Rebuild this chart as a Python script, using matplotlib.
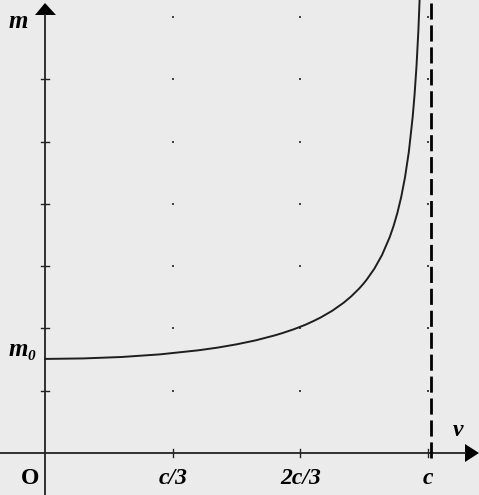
import matplotlib
matplotlib.use("Agg")
import matplotlib.pyplot as plt
from matplotlib.patches import Polygon

# ---- data ----
# speed v as a fraction of c, mass m in y-tick units (m0 = 1.51 units)
v_vals = [0.0, 0.1, 0.2, 0.3, 0.4, 0.45, 0.5, 0.55, 0.6, 0.62, 0.65, 0.68, 0.7,
          0.72, 0.75, 0.78, 0.8, 0.82, 0.83, 0.84, 0.86, 0.88, 0.9, 0.91, 0.92,
          0.93, 0.94, 0.95, 0.96, 0.965, 0.97, 0.975, 0.98]
m_vals = [1.51, 1.518, 1.541, 1.583, 1.648, 1.691, 1.744, 1.808, 1.888, 1.925,
          1.987, 2.059, 2.115, 2.176, 2.283, 2.413, 2.517, 2.638, 2.707, 2.783,
          2.959, 3.179, 3.464, 3.642, 3.853, 4.108, 4.426, 4.836, 5.393, 5.758,
          6.211, 6.796, 7.588]
m0_val = 1.51
x_ticks = [1/3, 2/3, 1.0]
x_tick_labels = ["c/3", "2c/3", "c"]
y_ticks = [1, 2, 3, 4, 5, 6]
grid_y = [1, 2, 3, 4, 5, 6, 7]
asymptote_v = 1.008

W, H = 479, 495
OX, OY = 45, 453        # pixel origin
SX, SY = 383.0, 62.3    # pixels per c, pixels per y unit

def px2x(px):
    return (px - OX) / SX

def px2y(py):
    return (OY - py) / SY

fig = plt.figure(figsize=(W / 100, H / 100), dpi=100)
fig.patch.set_facecolor("#ebebeb")
ax = fig.add_axes([0, 0, 1, 1])
ax.set_facecolor("#ebebeb")
ax.set_xlim(px2x(0), px2x(W))
ax.set_ylim(px2y(H), px2y(0))
ax.axis("off")

axis_col = "#222222"
# axes lines
ax.plot([px2x(0), px2x(466)], [0, 0], color=axis_col, lw=1.3, solid_capstyle="butt")
ax.plot([0, 0], [px2y(H), px2y(14)], color=axis_col, lw=1.3, solid_capstyle="butt")
# arrow heads
ax.add_patch(Polygon([(px2x(479), 0), (px2x(465), px2y(444)), (px2x(465), px2y(462))],
                     closed=True, color="black", lw=0))
ax.add_patch(Polygon([(0, px2y(3)), (px2x(35), px2y(15)), (px2x(56), px2y(15))],
                     closed=True, color="black", lw=0))

# ticks
tl = 4 / SX
tly = 4 / SY
for t in x_ticks:
    ax.plot([t, t], [-tly, tly], color=axis_col, lw=1.0)
for t in y_ticks:
    ax.plot([-tl, tl], [t, t], color=axis_col, lw=1.0)

# dotted grid
for gx in x_ticks:
    ax.scatter([gx] * len(grid_y), grid_y, s=2.5, marker="s", color="#444444", lw=0)

# asymptote (drawn upward from just below the axis)
ax.plot([asymptote_v, asymptote_v], [px2y(458), px2y(0)], color="black", lw=2.0,
        linestyle=(0, (5.8, 2.1)), dash_capstyle="butt")

# curve
ax.plot(v_vals, m_vals, color="#1e1e1e", lw=1.4)

# labels
font = dict(family="Liberation Serif", fontweight="bold", color="black")
ax.text(px2x(18), px2y(22), "m", fontsize=18, style="italic", ha="center", va="center", **font)
ax.text(px2x(18), px2y(349), "m", fontsize=18, style="italic", ha="center", va="center", **font)
ax.text(px2x(31), px2y(357), "0", fontsize=11, style="italic", ha="center", va="center", **font)
ax.text(px2x(30), px2y(479), "O", fontsize=17, ha="center", va="center", **font)
for t, lab in zip(x_ticks, x_tick_labels):
    ax.text(t, px2y(478), lab, fontsize=17, style="italic", ha="center", va="center", **font)
ax.text(px2x(458), px2y(430), "v", fontsize=17, style="italic", ha="center", va="center", **font)

fig.savefig("out.png", dpi=100, facecolor=fig.get_facecolor())
